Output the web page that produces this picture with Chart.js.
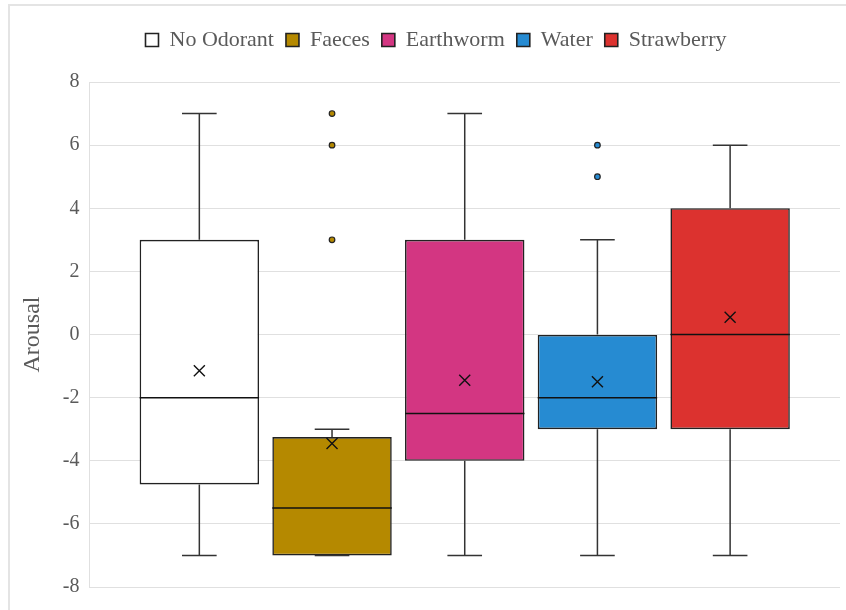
<!DOCTYPE html>
<html>
<head>
<meta charset="utf-8">
<script src="https://cdn.jsdelivr.net/npm/chart.js@4.4.0/dist/chart.umd.min.js"></script>
<style>
  body { margin: 0; background: #fff; overflow: hidden; }
  #frame { position: absolute; left: 8px; top: 4px; width: 900px; height: 700px;
           border-left: 2px solid #e4e4e4; border-top: 2px solid #e4e4e4; }
  #wrap { position: absolute; left: 0; top: 0; width: 870px; height: 610px; }
</style>
</head>
<body>
<div id="frame"></div>
<div id="wrap"><canvas id="boxChart"></canvas></div>
<script>
// данные по группам
var groups = ["No Odorant", "Faeces", "Earthworm", "Water", "Strawberry"];
var colors = ["#ffffff", "#b58900", "#d33682", "#268bd2", "#dc322f"];
var mins = [-7, -7, -7, -7, -7];
var q1s = [-4.75, -7, -4, -3, -3];
var medians = [-2, -5.5, -2.5, -2, 0];
var q3s = [3, -3.25, 3, 0, 4];
var maxs = [7, -3, 7, 3, 6];
var means = [-1.15, -3.45, -1.45, -1.5, 0.55];
var outliers = [[], [3, 6, 7], [], [5, 6], []];
var yMin = -8, yMax = 8, yStep = 2;

var textColor = "#5a5a5a";
var serif = "'Liberation Serif', 'DejaVu Serif', serif";

// отступ под легендой и небольшой сдвиг вправо
var legendMargin = {
  id: "legendMargin",
  beforeInit: function (chart) {
    var fit = chart.legend.fit;
    chart.legend.fit = function () {
      fit.bind(chart.legend)();
      this.height += 21;
    };
  },
  afterLayout: function (chart) {
    chart.legend.left += 7;
    chart.legend.right += 7;
  }
};

// усы, медиана, среднее и выбросы поверх коробок
var boxPlotExtras = {
  id: "boxPlotExtras",
  afterDatasetsDraw: function (chart) {
    var ctx = chart.ctx;
    var y = chart.scales.y;
    ctx.save();
    for (var i = 0; i < groups.length; i++) {
      var bar = chart.getDatasetMeta(i).data[0];
      var cx = bar.x;
      var half = bar.width / 2;
      var cap = bar.width * 0.145;

      ctx.strokeStyle = "#333";
      ctx.lineWidth = 1.5;
      ctx.beginPath();
      // верхний ус
      ctx.moveTo(cx, y.getPixelForValue(q3s[i]));
      ctx.lineTo(cx, y.getPixelForValue(maxs[i]));
      ctx.moveTo(cx - cap, y.getPixelForValue(maxs[i]));
      ctx.lineTo(cx + cap, y.getPixelForValue(maxs[i]));
      // нижний ус
      ctx.moveTo(cx, y.getPixelForValue(q1s[i]));
      ctx.lineTo(cx, y.getPixelForValue(mins[i]));
      ctx.moveTo(cx - cap, y.getPixelForValue(mins[i]));
      ctx.lineTo(cx + cap, y.getPixelForValue(mins[i]));
      ctx.stroke();

      // медиана
      ctx.strokeStyle = "#111";
      ctx.beginPath();
      ctx.moveTo(cx - half, y.getPixelForValue(medians[i]));
      ctx.lineTo(cx + half, y.getPixelForValue(medians[i]));
      ctx.stroke();

      // среднее (крестик)
      var my = y.getPixelForValue(means[i]);
      ctx.lineWidth = 1.4;
      ctx.beginPath();
      ctx.moveTo(cx - 5.5, my - 5.5);
      ctx.lineTo(cx + 5.5, my + 5.5);
      ctx.moveTo(cx + 5.5, my - 5.5);
      ctx.lineTo(cx - 5.5, my + 5.5);
      ctx.stroke();

      // выбросы
      for (var k = 0; k < outliers[i].length; k++) {
        ctx.beginPath();
        ctx.arc(cx, y.getPixelForValue(outliers[i][k]), 2.8, 0, Math.PI * 2);
        ctx.fillStyle = colors[i];
        ctx.fill();
        ctx.lineWidth = 1.2;
        ctx.strokeStyle = "#222";
        ctx.stroke();
      }
    }
    ctx.restore();
  }
};

var datasets = [];
for (var i = 0; i < groups.length; i++) {
  datasets.push({
    label: groups[i],
    data: [[q1s[i], q3s[i]]],
    backgroundColor: colors[i],
    borderColor: "#222",
    borderWidth: 1.6,
    borderSkipped: false,
    categoryPercentage: 0.884,
    barPercentage: 0.9
  });
}

var ctx = document.getElementById("boxChart").getContext("2d");
var boxChart = new Chart(ctx, {
  type: "bar",
  data: {
    labels: [""],
    datasets: datasets
  },
  plugins: [legendMargin, boxPlotExtras],
  options: {
    responsive: true,
    maintainAspectRatio: false,
    animation: false,
    layout: {
      padding: { top: 17, left: 18, right: 30, bottom: 23 }
    },
    plugins: {
      tooltip: { enabled: false },
      legend: {
        position: "top",
        labels: {
          boxWidth: 13,
          boxHeight: 13,
          padding: 12,
          color: textColor,
          font: { family: serif, size: 22 }
        }
      }
    },
    scales: {
      x: {
        display: false
      },
      y: {
        min: yMin,
        max: yMax,
        ticks: {
          stepSize: yStep,
          padding: 10,
          color: textColor,
          font: { family: serif, size: 20 }
        },
        grid: { color: "#e0e0e0", drawTicks: false },
        border: { color: "#e0e0e0" },
        title: {
          display: true,
          text: "Arousal",
          color: textColor,
          font: { family: serif, size: 24 },
          padding: { top: 0, bottom: 6 }
        }
      }
    }
  }
});
</script>
</body>
</html>
